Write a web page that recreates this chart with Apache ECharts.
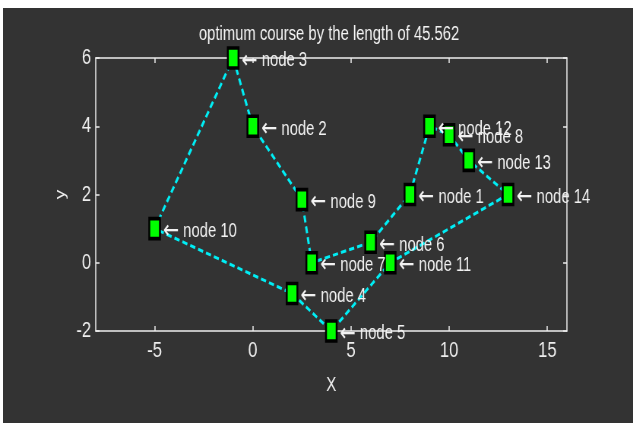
<!DOCTYPE html>
<html>
<head>
<meta charset="utf-8">
<script src="https://cdn.jsdelivr.net/npm/echarts@6/dist/echarts.min.js"></script>
<style>
  html, body { margin: 0; padding: 0; background: #ffffff; overflow: hidden; }
  #frame {
    position: absolute; left: 3px; top: 8px;
    width: 630px; height: 415px;
    background: #333333;
    box-shadow: inset 1px 0 0 #7a7a80;
    overflow: hidden;
  }
  /* the figure is drawn wide and squeezed horizontally */
  #chart {
    position: absolute; left: 0; top: 0;
    width: 829px; height: 415px;
    transform: scaleX(0.76);
    transform-origin: 0 0;
  }
</style>
</head>
<body>
<div id="frame"><div id="chart"></div></div>
<script>
// City coordinates of the 14-node tour
const nodeIds = [1, 2, 3, 4, 5, 6, 7, 8, 9, 10, 11, 12, 13, 14];
const nodeX   = [8, 0, -1, 2, 4, 6, 3, 10, 2.5, -5, 7, 9, 11, 13];
const nodeY   = [2, 4, 6, -0.9, -2, 0.6, 0, 3.75, 1.85, 1, 0, 4, 3, 2];

// Visiting order of the best tour (closed loop)
const tourOrder = [3, 2, 9, 7, 6, 1, 12, 8, 13, 14, 11, 5, 4, 10];
const tourLength = '45.562';

// Axis ticks
const xTicks = [-5, 0, 5, 10, 15];
const yTicks = [-2, 0, 2, 4, 6];

const font = "'Liberation Sans', Arial, sans-serif";
const fg = '#eeeeee';

const nodes = nodeIds.map((id, i) => ({ value: [nodeX[i], nodeY[i]], id }));
const route = tourOrder.concat([tourOrder[0]]).map(id => {
  const i = nodeIds.indexOf(id);
  return [nodeX[i], nodeY[i]];
});

const boxLine = { show: true, onZero: false, lineStyle: { color: fg, width: 1.5 } };
const boxTick = { show: true, inside: true, length: 5, lineStyle: { color: fg, width: 1.5 } };

const gridLeft = 122, gridRight = 87, chartWidth = 829;

const chart = echarts.init(document.getElementById('chart'));
chart.setOption({
  animation: false,
  backgroundColor: '#333333',
  title: {
    text: 'optimum course by the length of ' + tourLength,
    left: gridLeft + (chartWidth - gridLeft - gridRight) / 2 - 8,
    textAlign: 'center',
    top: 12,
    textStyle: { color: '#f4f4f4', fontFamily: font, fontSize: 19.5, fontWeight: 'normal' }
  },
  grid: { left: gridLeft, top: 50, right: gridRight, bottom: 92 },
  xAxis: [
    {
      type: 'value', min: -8, max: 16,
      name: 'X', nameLocation: 'middle', nameGap: 44,
      nameTextStyle: { color: fg, fontFamily: font, fontSize: 20 },
      axisLine: boxLine,
      axisTick: Object.assign({ customValues: xTicks }, boxTick),
      axisLabel: { customValues: xTicks, color: fg, fontFamily: font, fontSize: 22, margin: 9 },
      splitLine: { show: false }
    },
    {
      type: 'value', min: -8, max: 16, position: 'top',
      axisLine: boxLine,
      axisTick: Object.assign({ customValues: xTicks }, boxTick),
      axisLabel: { show: false },
      splitLine: { show: false }
    }
  ],
  yAxis: [
    {
      type: 'value', min: -2, max: 6, interval: 2,
      name: 'y', nameLocation: 'middle', nameGap: 31,
      nameTextStyle: { color: fg, fontFamily: font, fontSize: 19 },
      axisLine: boxLine,
      axisTick: Object.assign({ customValues: yTicks }, boxTick),
      axisLabel: { customValues: yTicks, color: fg, fontFamily: font, fontSize: 22, margin: 6 },
      splitLine: { show: false }
    },
    {
      type: 'value', min: -2, max: 6, interval: 2, position: 'right',
      axisLine: boxLine,
      axisTick: Object.assign({ customValues: yTicks }, boxTick),
      axisLabel: { show: false },
      splitLine: { show: false }
    }
  ],
  series: [
    {
      type: 'line',
      xAxisIndex: 0, yAxisIndex: 0,
      data: route,
      showSymbol: false,
      symbol: 'none',
      lineStyle: { color: '#00eef5', width: 3, type: [7, 4] },
      z: 2
    },
    {
      type: 'scatter',
      xAxisIndex: 0, yAxisIndex: 0,
      data: nodes,
      symbol: 'rect',
      symbolSize: [14, 20],
      itemStyle: { color: '#00ff00', borderColor: '#000000', borderWidth: 3, opacity: 1 },
      label: {
        show: true,
        position: 'right',
        distance: 3,
        offset: [0, 3],
        formatter: p => '{a|\u2190} node ' + p.data.id,
        color: '#f2f2f2',
        fontFamily: font,
        fontSize: 19.5,
        rich: {
          a: { fontFamily: "'DejaVu Sans', sans-serif", fontSize: 25, color: '#f2f2f2' }
        }
      },
      z: 3
    }
  ]
});
</script>
</body>
</html>
